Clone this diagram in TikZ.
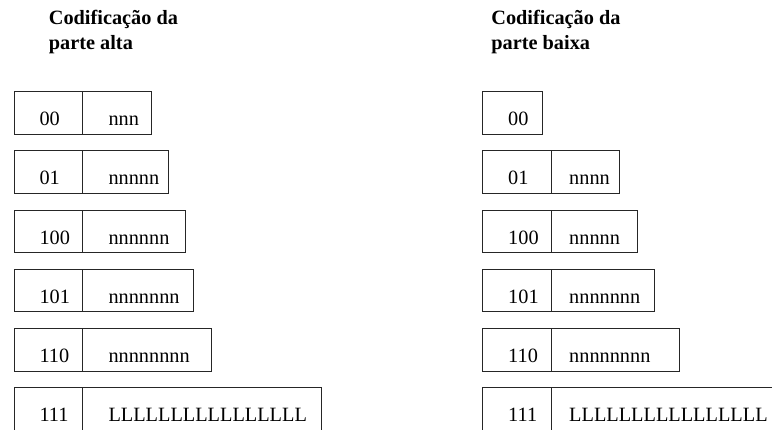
\documentclass[tikz,border=0pt]{standalone}
\usepackage{fontspec}
\setmainfont{Liberation Serif}
\usetikzlibrary{positioning}
\newcommand{\cellfont}{\fontsize{20.3}{24}\selectfont}
\newcommand{\headfont}{\fontsize{20.3}{25}\selectfont\bfseries}
\tikzset{
x=1pt, y=-1pt, % work in points, y grows downwards
cell/.style={draw=black!85, line width=0.9pt, inner sep=0pt, outer sep=0pt, text width=#1, align=left, text height=34pt, text depth=8.5pt, font=\cellfont}, % one box of a row
lpad/.style={execute at begin node=\hspace*{#1}}, % room before the text
code/.style={cell=68.5, lpad=25.5pt, anchor=north west}, % prefix box
bits/.style={cell=#1, lpad=26pt}, % payload box, left column
bitsb/.style={cell=#1, lpad=18pt}, % payload box, right column
head/.style={align=left, anchor=base west, inner sep=0pt, font=\headfont}, % column titles (base = last line)
}

\begin{document}
\begin{tikzpicture}
\useasboundingbox (0,0) rectangle (772,429);
\clip (0,0) rectangle (772,429);

\node[head] (ta) at (48.7,49.5) {Codificação da\\parte alta};
\node[head] (tb) at (491.2,49.5) {Codificação da\\parte baixa};

% parte alta
\node[code] (a1) at (14,91.7) {00};
\node[bits=69.4, right=0pt of a1] (an1) {nnn};
\node[code] (a2) at (14,150.9) {01};
\node[bits=86, right=0pt of a2] (an2) {nnnnn};
\node[code] (a3) at (14,210.1) {100};
\node[bits=103, right=0pt of a3] (an3) {nnnnnn};
\node[code] (a4) at (14,269.3) {101};
\node[bits=111.4, right=0pt of a4] (an4) {nnnnnnn};
\node[code] (a5) at (14,328.5) {110};
\node[bits=128.7, right=0pt of a5] (an5) {nnnnnnnn};
\node[code] (a6) at (14,387.7) {111};
\node[bits=239, right=0pt of a6] (an6) {LLLLLLLLLLLLLLLL};

% parte baixa
\node[code, cell=60] (b1) at (482.7,91.7) {00};
\node[code] (b2) at (482.7,150.9) {01};
\node[bitsb=68.7, right=0pt of b2] (bn2) {nnnn};
\node[code] (b3) at (482.7,210.1) {100};
\node[bitsb=86, right=0pt of b3] (bn3) {nnnnn};
\node[code] (b4) at (482.7,269.3) {101};
\node[bitsb=103, right=0pt of b4] (bn4) {nnnnnnn};
\node[code] (b5) at (482.7,328.5) {110};
\node[bitsb=128.4, right=0pt of b5] (bn5) {nnnnnnnn};
\node[code] (b6) at (482.7,387.7) {111};
\node[bitsb=240, right=0pt of b6] (bn6) {LLLLLLLLLLLLLLLL};
\end{tikzpicture}
\end{document}
